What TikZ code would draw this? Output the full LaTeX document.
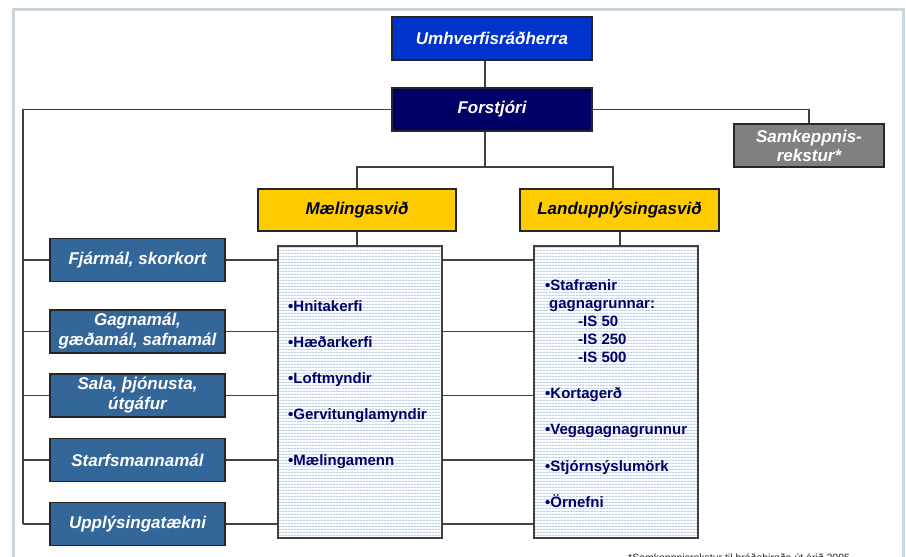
\documentclass[tikz,border=0pt]{standalone}
\usepackage{fontspec}
\setmainfont{Liberation Sans}
\usetikzlibrary{patterns.meta}
\definecolor{framecol}{HTML}{CBD5DD}
\definecolor{umhcol}{HTML}{0033CC}
\definecolor{forcol}{HTML}{000066}
\definecolor{samcol}{HTML}{808080}
\definecolor{yelcol}{HTML}{FFCC00}
\definecolor{leftcol}{HTML}{336699}
\definecolor{navytext}{HTML}{000066}
\definecolor{stripecol}{HTML}{BED1EB}
\definecolor{linecol}{HTML}{404040}
\tikzdeclarepattern{name=hstripes, type=uncolored,
  bounding box={(0pt,0pt) and (3pt,3pt)}, tile size={(3pt,3pt)},
  code={\fill (0pt,0pt) rectangle (3pt,1.5pt);}}
\begin{document}
\begin{tikzpicture}[x=1pt,y=-1pt,
  box/.style={draw=black!85, line width=1.1pt, inner sep=0pt, align=center,
    font=\fontsize{17}{20}\selectfont\bfseries\itshape, text=white},
  listbox/.style={draw=black!75, line width=1.1pt, inner sep=0pt,
    minimum width=164pt, minimum height=292pt,
    preaction={fill=white}, pattern=hstripes, pattern color=stripecol},
  item/.style={anchor=base west, inner sep=0pt, text=navytext,
    font=\fontsize{15}{18}\selectfont\bfseries},
  conn/.style={draw=linecol, line width=1.1pt}]
\useasboundingbox (0,0) rectangle (906,557);
\clip (0,0) rectangle (906,557);
% frame
\draw[framecol, line width=3pt] (13,620) |- (903.5,9.5) -- (903.5,620);
% top boxes
\node[box, fill=umhcol, minimum width=200pt, minimum height=43pt] (umh) at (492,38.5) {Umhverfisráðherra};
\node[box, fill=forcol, minimum width=200pt, minimum height=43pt] (fors) at (492,109.5) {Forstjóri};
\node[box, fill=samcol, minimum width=150pt, minimum height=43pt, font=\fontsize{17}{19}\selectfont\bfseries\itshape] (sam) at (809,145.5) {Samkeppnis-\\rekstur*};
% yellow boxes
\node[box, fill=yelcol, text=black!90!blue, minimum width=198pt, minimum height=42pt] (mael) at (357,210) {Mælingasvið};
\node[box, fill=yelcol, text=black!90!blue, minimum width=199pt, minimum height=42pt] (land) at (619.5,210) {Landupplýsingasvið};
% list boxes
\node[listbox] (lista) at (360,392) {};
\node[listbox] (listb) at (616,392) {};
% left boxes
\tikzset{lbox/.style={box, fill=leftcol, minimum width=175pt, minimum height=43pt}}
\node[lbox] (fjar) at (137.5,260) {Fjármál, skorkort};
\node[lbox] (gagn) at (137.5,331.5) {Gagnamál,\\gæðamál, safnamál};
\node[lbox] (sala) at (137.5,395.5) {Sala, þjónusta,\\útgáfur};
\node[lbox] (starf) at (137.5,460) {Starfsmannamál};
\node[lbox] (upp) at (137.5,524) {Upplýsingatækni};
\coordinate (spine) at (23,524);
\coordinate (branch) at (485,167);
% connectors
\draw[conn] ([xshift=-7pt]umh.south) -- ([xshift=-7pt]fors.north);
\draw[conn] (fors.west) -| (spine);
\draw[conn] (fors.east) -| (sam.north);
\draw[conn] ([xshift=-7pt]fors.south) -- (branch);
\draw[conn] (mael.north) |- (branch) -| ([xshift=-6.5pt]land.north);
\draw[conn] (mael.south) -- (mael.south |- lista.north);
\draw[conn] ([xshift=0.5pt]land.south) -- ([xshift=0.5pt]land.south |- listb.north);
\foreach \b in {fjar,gagn,sala,starf,upp}{
  \draw[conn] (spine |- \b.west) -- (\b.west);
  \draw[conn] (\b.east) -- (lista.west |- \b.east);
  \draw[conn] (lista.east |- \b.east) -- (listb.west |- \b.east);
}
% list items
\node[item] (i1) at (288,311.5) {•Hnitakerfi};
\node[item] (i2) at (288,347.5) {•Hæðarkerfi};
\node[item] (i3) at (288,383.5) {•Loftmyndir};
\node[item] (i4) at (288,419.5) {•Gervitunglamyndir};
\node[item] (i5) at (288,465.5) {•Mælingamenn};
\node[item] (j1) at (545,290.5) {•Stafrænir};
\node[item] (j2) at (549,308.5) {gagnagrunnar:};
\node[item] (j3) at (578,326.5) {-IS 50};
\node[item] (j4) at (578,344.5) {-IS 250};
\node[item] (j5) at (578,362.5) {-IS 500};
\node[item] (j6) at (545,398.5) {•Kortagerð};
\node[item] (j7) at (545,434.5) {•Vegagagnagrunnur};
\node[item] (j8) at (545,471.5) {•Stjórnsýslumörk};
\node[item] (j9) at (545,507.5) {•Örnefni};
% footnote
\node[anchor=base west, inner sep=0pt, font=\fontsize{10.5}{12}\selectfont, text=black!85] (foot) at (628,561) {*Samkeppnisrekstur til bráðabirgða út árið 2005};
\end{tikzpicture}
\end{document}
